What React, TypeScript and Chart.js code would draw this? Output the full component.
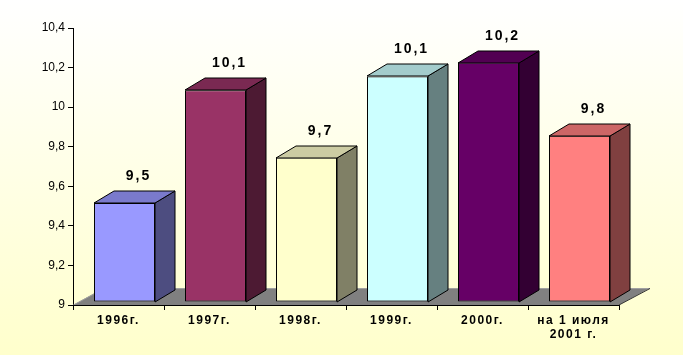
import React, { useEffect, useRef } from 'react';
import { Chart, registerables } from 'chart.js';

Chart.register(...registerables);

const categories: (string | string[])[] = ['1996г.', '1997г.', '1998г.', '1999г.', '2000г.', ['на 1 июля', '2001 г.']];
const values = [9.5, 10.07, 9.73, 10.14, 10.21, 9.84];
const frontColors = ['#9999FF', '#993366', '#FFFFCC', '#CCFFFF', '#660066', '#FF8080'];
const topColors = ['#7A7ACC', '#7A2952', '#CCCCA3', '#A3CCCC', '#520052', '#CC6666'];
const sideColors = ['#4D4D80', '#4D1A33', '#808066', '#668080', '#330033', '#804040'];
const yMin = 9;
const yMax = 10.4;
const yStep = 0.2;

const FONT = 'Arial, "Liberation Sans", sans-serif';

const fmt = (v: number) => (Math.round(v * 10) / 10).toString().replace('.', ',');

const threeD = {
  id: 'threeD',
  beforeDraw(chart: any) {
    const { ctx, width, height } = chart;
    (ctx as any).letterSpacing = '0px';
    const g = ctx.createLinearGradient(0, 0, 0, height);
    g.addColorStop(0, '#FFFFFF');
    g.addColorStop(1, '#FFFFCC');
    ctx.save();
    ctx.fillStyle = g;
    ctx.fillRect(0, 0, width, height);
    ctx.restore();
  },
  beforeDatasetsDraw(chart: any) {
    const { ctx } = chart;
    const xs = chart.scales.x;
    const ys = chart.scales.y;
    const b = ys.getPixelForValue(yMin);
    const l = xs.left;
    const r = xs.right;
    const dx = 31, dy = 17;
    ctx.save();
    ctx.beginPath();
    ctx.moveTo(l, b);
    ctx.lineTo(r, b);
    ctx.lineTo(r + dx, b - dy);
    ctx.lineTo(l + dx, b - dy);
    ctx.closePath();
    ctx.fillStyle = '#808080';
    ctx.fill();
    ctx.lineWidth = 1;
    ctx.strokeStyle = '#A0A0A0';
    ctx.beginPath();
    ctx.moveTo(l + 0.5, b);
    ctx.lineTo(l + dx, b - dy + 0.5);
    ctx.lineTo(r + dx, b - dy + 0.5);
    ctx.stroke();
    ctx.strokeStyle = '#333333';
    ctx.beginPath();
    ctx.moveTo(r + dx, b - dy + 0.5);
    ctx.lineTo(r, b);
    ctx.stroke();
    ctx.strokeStyle = '#000000';
    ctx.beginPath();
    ctx.moveTo(l, Math.round(b) + 0.5);
    ctx.lineTo(r, Math.round(b) + 0.5);
    ctx.stroke();
    ctx.restore();
    ctx.save();
    ctx.translate(6, -3);
  },
  afterDatasetsDraw(chart: any) {
    const { ctx } = chart;
    const meta = chart.getDatasetMeta(0);
    const dx = 20, dy = 12;
    ctx.lineWidth = 1;
    ctx.strokeStyle = '#000000';
    meta.data.forEach((bar: any, i: number) => {
      const x1 = Math.round(bar.x - bar.width / 2);
      const x2 = Math.round(bar.x + bar.width / 2);
      const top = Math.round(bar.y);
      const base = Math.round(bar.base);
      ctx.beginPath();
      ctx.moveTo(x2, top);
      ctx.lineTo(x2 + dx, top - dy);
      ctx.lineTo(x2 + dx, base - dy);
      ctx.lineTo(x2, base);
      ctx.closePath();
      ctx.fillStyle = sideColors[i];
      ctx.fill();
      ctx.stroke();
      ctx.beginPath();
      ctx.moveTo(x1, top);
      ctx.lineTo(x1 + dx, top - dy);
      ctx.lineTo(x2 + dx, top - dy);
      ctx.lineTo(x2, top);
      ctx.closePath();
      ctx.fillStyle = topColors[i];
      ctx.fill();
      ctx.stroke();
      ctx.fillStyle = '#000000';
      ctx.font = 'bold 14px ' + FONT;
      (ctx as any).letterSpacing = '2px';
      ctx.textAlign = 'center';
      ctx.textBaseline = 'alphabetic';
      ctx.fillText(fmt(values[i]), bar.x + 14, top - 23);
    });
    ctx.restore();
    // x tick labels (z: 1) are drawn after this, with wider letter spacing
    (ctx as any).letterSpacing = '1.5px';
  },
  afterDraw(chart: any) {
    (chart.ctx as any).letterSpacing = '0px';
  },
};

export default function App() {
  const ref = useRef<HTMLCanvasElement | null>(null);
  useEffect(() => {
    document.body.style.margin = '0';
    const canvas = ref.current!;
    const chart = new Chart(canvas, {
      type: 'bar',
      data: {
        labels: categories,
        datasets: [
          {
            data: values,
            base: yMin,
            backgroundColor: frontColors,
            borderColor: '#000000',
            borderWidth: 1,
            borderSkipped: false,
            categoryPercentage: 0.67,
            barPercentage: 1,
            clip: false as any,
          } as any,
        ],
      },
      options: {
        responsive: false,
        animation: false,
        devicePixelRatio: 1,
        layout: { padding: { top: 28, right: 64, left: 0, bottom: 0 } },
        plugins: {
          legend: { display: false },
          tooltip: { enabled: false },
        },
        scales: {
          x: {
            grid: {
              display: true,
              drawOnChartArea: false,
              drawTicks: true,
              tickLength: 5,
              color: '#000000',
              offset: true,
            },
            border: { display: true, color: '#000000' },
            ticks: {
              z: 1,
              color: '#000000',
              font: { family: FONT, size: 12, weight: 'bold', lineHeight: 1.15 },
              padding: 4,
              maxRotation: 0,
              autoSkip: false,
            },
            afterFit(scale: any) {
              scale.height = 50;
            },
          },
          y: {
            min: yMin,
            max: yMax,
            grid: {
              display: true,
              drawOnChartArea: false,
              drawTicks: true,
              tickLength: 5,
              color: '#000000',
            },
            border: { display: true, color: '#000000' },
            ticks: {
              stepSize: yStep,
              color: '#000000',
              font: { family: FONT, size: 12 },
              padding: 3,
              callback: (v: any) => fmt(Number(v)),
            },
            afterFit(scale: any) {
              scale.width = 73;
            },
          },
        },
      },
      plugins: [threeD],
    });
    return () => chart.destroy();
  }, []);
  return <canvas ref={ref} width={683} height={355} style={{ display: 'block', width: 683, height: 355 }} />;
}
